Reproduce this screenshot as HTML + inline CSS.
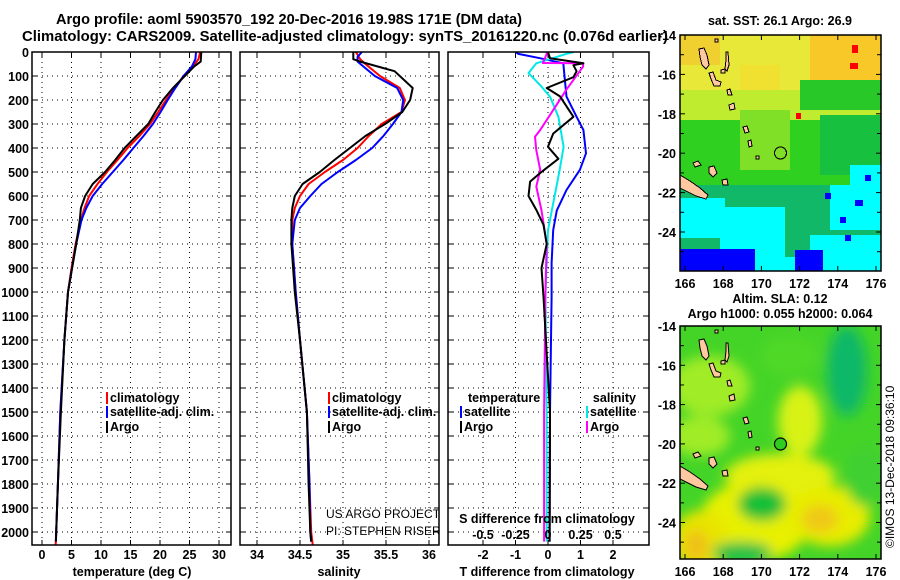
<!DOCTYPE html>
<html><head><meta charset="utf-8"><style>
html,body{margin:0;padding:0;background:#fff;}
svg{display:block;font-family:"Liberation Sans",Arial,sans-serif;}
.b{font-weight:bold;font-size:12.5px;}
</style></head><body>
<svg id="c" width="900" height="580" viewBox="0 0 900 580" xmlns="http://www.w3.org/2000/svg">
<defs>
<clipPath id="cp1"><rect x="32" y="52" width="199" height="493"/></clipPath>
<clipPath id="cp2"><rect x="240" y="52" width="199" height="493"/></clipPath>
<clipPath id="cp3"><rect x="448" y="52" width="201" height="493"/></clipPath>
<clipPath id="cm1"><rect x="680" y="35" width="201" height="236"/></clipPath>
<clipPath id="cm2"><rect x="680" y="326" width="201" height="233"/></clipPath>
<filter id="bl" x="-50%" y="-50%" width="200%" height="200%"><feGaussianBlur stdDeviation="6"/></filter>
</defs>
<text x="56" y="24" textLength="466" lengthAdjust="spacingAndGlyphs" font-weight="bold" font-size="14.5">Argo profile: aoml 5903570_192 20-Dec-2016 19.98S 171E (DM data)</text>
<text x="22" y="41" textLength="646" lengthAdjust="spacingAndGlyphs" font-weight="bold" font-size="14.5">Climatology: CARS2009. Satellite-adjusted climatology: synTS_20161220.nc (0.076d earlier)</text>
<g id="g"></g>
</svg>
<script>
// ---- data ----
const tClimDepth=[0,30,60,100,150,200,250,300,350,400,450,500,550,600,650,700,800,900,1000,1200,1500,1800,2000,2060];
const tClim=[26.8,26.5,25.6,24.0,22.5,21.0,19.7,18.3,16.5,14.5,12.8,11.0,9.4,8.0,7.2,6.6,5.7,5.0,4.4,3.8,3.1,2.7,2.4,2.3];
const tSatDepth=[0,30,60,100,150,200,250,300,350,400,450,500,550,600,650,700,800,900,1000,1200,1500,1800,2000,2040];
const tSat=[26.1,26.0,25.4,24.0,22.6,21.3,20.1,18.8,17.2,15.5,13.8,12.0,10.2,8.6,7.5,6.7,5.8,5.1,4.4,3.8,3.1,2.7,2.4,2.35];
const tArgoDepth=[0,40,60,100,150,200,250,300,350,400,450,500,550,600,650,700,800,900,1000,1200,1500,1800,2000,2040];
const tArgo=[27.0,26.9,25.8,24.2,22.2,20.5,19.2,18.0,16.0,14.0,12.4,10.7,8.6,7.3,6.6,6.4,5.8,5.1,4.4,3.8,3.2,2.7,2.4,2.35];
const sClimDepth=[0,30,50,100,150,200,250,300,350,400,450,500,550,600,650,700,800,1000,1200,1500,1800,2000,2060];
const sClim=[35.15,35.2,35.26,35.43,35.66,35.72,35.68,35.45,35.3,35.17,35.0,34.79,34.6,34.5,34.44,34.41,34.41,34.45,34.5,34.58,34.61,34.63,34.65];
const sSatDepth=[0,20,40,100,150,200,250,300,350,400,450,500,550,600,650,700,800,1000,1200,1500,1800,2000,2040];
const sSat=[35.22,35.17,35.17,35.37,35.63,35.70,35.68,35.58,35.47,35.34,35.15,34.94,34.75,34.62,34.5,34.44,34.41,34.45,34.5,34.58,34.61,34.62,34.63];
const sArgoDepth=[0,30,40,80,150,200,250,300,350,400,450,500,550,600,650,700,800,1000,1200,1500,1800,2000,2040];
const sArgo=[35.12,35.12,35.2,35.6,35.81,35.78,35.69,35.49,35.26,35.08,34.9,34.73,34.53,34.44,34.41,34.40,34.40,34.44,34.5,34.58,34.6,34.62,34.63];
const dTSatDepth=[0,8,26,47,117,186,270,325,422,491,575,660,742,880,1020,1500,2040];
const dTSat=[-1.0,-0.91,-0.25,0.47,0.52,0.57,0.88,1.09,1.17,0.98,0.57,0.27,0.16,0.11,0.11,0.06,0.05];
const dTArgoDepth=[0,26,47,55,80,105,150,185,270,340,395,445,505,540,600,660,720,800,900,1020,1500,2040];
const dTArgo=[0.0,0.06,1.09,0.78,0.88,0.78,-0.04,0.37,0.78,0.16,0.0,0.32,-0.25,-0.55,-0.6,-0.35,-0.14,-0.04,-0.2,-0.14,0.06,0.05];
const dSSatDepth=[0,8,47,88,144,186,270,395,491,603,742,880,1020,1500,2040];
const dSSat=[0.2,0.14,-0.09,-0.15,-0.05,0.015,0.08,0.12,0.09,0.05,0.0,-0.01,-0.02,-0.01,-0.01];
const dSArgoDepth=[0,8,46,47,61,158,242,325,353,409,491,561,660,800,1000,1500,2040];
const dSArgo=[-0.01,-0.01,-0.04,0.27,0.27,0.14,0.04,-0.06,-0.1,-0.09,-0.06,-0.09,-0.05,-0.01,-0.02,-0.03,-0.03];
const depthTicks=[0,100,200,300,400,500,600,700,800,900,1000,1100,1200,1300,1400,1500,1600,1700,1800,1900,2000];
const tTicks=[0,5,10,15,20,25,30];
const sTicks=[34,34.5,35,35.5,36];
const sTickLabels=["34","34.5","35","35.5","36"];
const dTTicks=[-2,-1,0,1,2];
const dSTicks=[-0.5,-0.25,0,0.25,0.5];
const dSTickLabels=["-0.5","-0.25","0","0.25","0.5"];
const latTicks=[-14,-16,-18,-20,-22,-24];
const lonTicks=[166,168,170,172,174,176];

// ---- scales ----
const Y0=52,Y1=545;
const yD=d=>Y0+0.24*d;
const xT=t=>42+5.9*t;
const xS=s=>257+86*(s-34);
const xDT=v=>548+32.5*v;
const xDS=v=>548+130*v;
const NS="http://www.w3.org/2000/svg";
const G=document.getElementById('g');
function mk(tag,attrs,parent){const e=document.createElementNS(NS,tag);for(const k in attrs)e.setAttribute(k,attrs[k]);(parent||G).appendChild(e);return e;}
function txt(x,y,s,attrs,parent){const e=mk('text',Object.assign({x:x,y:y},attrs||{}),parent);e.textContent=s;return e;}

const panels=[{x0:32,x1:231,clip:'cp1',name:'temperature'},{x0:240,x1:439,clip:'cp2',name:'salinity'},{x0:448,x1:649,clip:'cp3',name:'difference'}];
function grid(p,xs){
  const g=mk('g',{});
  
  
  xs.forEach(x=>mk('line',{x1:x,x2:x,y1:Y0,y2:Y1,stroke:'#000','stroke-width':1,'stroke-dasharray':'1,4'},g));
  depthTicks.forEach(d=>{const y=yD(d);mk('line',{x1:p.x0,x2:p.x1,y1:y,y2:y,stroke:'#000','stroke-width':1,'stroke-dasharray':'1,4'},g);
    mk('line',{x1:p.x0,x2:p.x0+5,y1:y,y2:y,stroke:'#000'},g);mk('line',{x1:p.x1-5,x2:p.x1,y1:y,y2:y,stroke:'#000'},g);});
  xs.forEach(x=>{mk('line',{x1:x,x2:x,y1:Y1,y2:Y1-5,stroke:'#000'},g);mk('line',{x1:x,x2:x,y1:Y0,y2:Y0+5,stroke:'#000'},g);});
}
grid(panels[0],tTicks.map(xT));
grid(panels[1],sTicks.map(xS));
grid(panels[2],dTTicks.map(xDT));
depthTicks.forEach(d=>{const t=txt(29,yD(d)+5,String(d),{'text-anchor':'end','class':'b'});

});
function line(xs,ds,fx,col,clip,name,w){
  const pts=xs.map((v,i)=>fx(v).toFixed(1)+','+yD(ds[i]).toFixed(1)).join(' ');
  const e=mk('polyline',{points:pts,fill:'none',stroke:col,'stroke-width':w||2,'clip-path':'url(#'+clip+')','stroke-linejoin':'round'});
  
  
}
line(tClim,tClimDepth,xT,'#ff0000','cp1','temp-climatology-line');
line(tSat,tSatDepth,xT,'#0000ff','cp1','temp-satellite-line');
line(tArgo,tArgoDepth,xT,'#000','cp1','temp-argo-line');
line(sClim,sClimDepth,xS,'#ff0000','cp2','sal-climatology-line');
line(sSat,sSatDepth,xS,'#0000ff','cp2','sal-satellite-line');
line(sArgo,sArgoDepth,xS,'#000','cp2','sal-argo-line');
line(dTSat,dTSatDepth,xDT,'#0000ff','cp3','tdiff-satellite-line');
line(dSSat,dSSatDepth,xDS,'#00e8e8','cp3','sdiff-satellite-line');
line(dSArgo,dSArgoDepth,xDS,'#ff00ff','cp3','sdiff-argo-line');
line(dTArgo,dTArgoDepth,xDT,'#000','cp3','tdiff-argo-line');
panels.forEach(p=>{const r=mk('rect',{x:p.x0,y:Y0,width:p.x1-p.x0,height:Y1-Y0,fill:'none',stroke:'#000','stroke-width':1.5});

});
tTicks.forEach(t=>txt(xT(t),559,String(t),{'text-anchor':'middle','class':'b'}));
sTicks.forEach((s,i)=>txt(xS(s),559,sTickLabels[i],{'text-anchor':'middle','class':'b'}));
dTTicks.forEach(v=>txt(xDT(v),559,String(v),{'text-anchor':'middle','class':'b'}));
dSTicks.forEach((v,i)=>txt(xDS(v),539,dSTickLabels[i],{'text-anchor':'middle','class':'b'}));
txt(132,576,'temperature (deg C)',{'text-anchor':'middle','class':'b',});
txt(339,576,'salinity',{'text-anchor':'middle','class':'b',});
txt(547,576,'T difference from climatology',{'text-anchor':'middle','class':'b',});
txt(547,523,'S difference from climatology',{'text-anchor':'middle','class':'b',});
function leg(x,y,col,label,name){const g=mk('g',{});
 mk('rect',{x:x,y:y-10,width:2,height:12,fill:col},g);txt(x+4,y,label,{'class':'b'},g);}
leg(106,402,'#ff0000','climatology','legend-entry-climatology');
leg(106,416,'#0000ff','satellite-adj. clim.','legend-entry-satellite');
leg(106,431,'#000','Argo','legend-entry-argo');
leg(328,402,'#ff0000','climatology','legend-entry-climatology-2');
leg(328,416,'#0000ff','satellite-adj. clim.','legend-entry-satellite-2');
leg(328,431,'#000','Argo','legend-entry-argo-2');
txt(468,402,'temperature',{'class':'b',});
txt(636,402,'salinity',{'class':'b','text-anchor':'end',});
leg(460,416,'#0000ff','satellite','legend-entry-t-satellite');
leg(460,431,'#000','Argo','legend-entry-t-argo');
leg(586,416,'#00e8e8','satellite','legend-entry-s-satellite');
leg(586,431,'#ff00ff','Argo','legend-entry-s-argo');
txt(326,518,'US ARGO PROJECT',{'font-size':12,'clip-path':'url(#cp2)',});
txt(326,535,'PI: STEPHEN RISER',{'font-size':12,'clip-path':'url(#cp2)',});

// ---- maps ----
const islands=[
 [[19,14],[24,13],[27,20],[29,30],[26,34],[22,30],[20,22]],
 [[29,38],[33,37],[36,45],[41,47],[40,51],[34,51],[31,44]],
 [[46,17],[48,17],[49,30],[47,36],[45,34],[46,25]],
 [[41,35],[45,34],[45,38],[41,38]],
 [[49,70],[54,68],[55,74],[50,75]],
 [[47,55],[50,54],[52,60],[48,60]],
 [[63,92],[67,91],[69,97],[65,98]],
 [[68,106],[71,105],[72,111],[69,112]],
 [[76,121],[79,121],[79,124],[76,124]],
 [[35,4],[38,4],[38,7],[35,7]],
 [[13,128],[18,126],[21,130],[15,132]],
 [[29,132],[34,131],[37,138],[33,142],[29,138]],
 [[42,145],[47,144],[48,150],[43,150]],
 [[0,140],[10,146],[20,153],[28,160],[26,164],[16,161],[6,156],[0,153]]
];
function drawIslands(ox,oy,g){islands.forEach(p=>{const e=mk('polygon',{points:p.map(q=>(q[0]+ox)+','+(q[1]+oy)).join(' '),fill:'#ffc8a0',stroke:'#000','stroke-width':1},g);
 
 });}
function mapAxes(ox,oy,h,k){
 latTicks.forEach((l,i)=>{const y=oy+i*2*k;txt(ox-4,y+5,String(l),{'text-anchor':'end','class':'b'});mk('line',{x1:ox,x2:ox+5,y1:y,y2:y,stroke:'#000'});mk('line',{x1:ox+201,x2:ox+196,y1:y,y2:y,stroke:'#000'});
  mk('line',{x1:ox,x2:ox+4,y1:y+k,y2:y+k,stroke:'#000'});mk('line',{x1:ox+201,x2:ox+197,y1:y+k,y2:y+k,stroke:'#000'});});
 lonTicks.forEach(l=>{const x=ox+5+19.1*(l-166);txt(x,oy+h+17,String(l),{'text-anchor':'middle','class':'b'});mk('line',{x1:x,x2:x,y1:oy+h,y2:oy+h-5,stroke:'#000'});mk('line',{x1:x,x2:x,y1:oy,y2:oy+5,stroke:'#000'});});
 const r=mk('rect',{x:ox,y:oy,width:201,height:h,fill:'none',stroke:'#000','stroke-width':1.5});
 
 
}
const m1=mk('g',{'clip-path':'url(#cm1)','shape-rendering':'crispEdges'});


(function(){const ox=680,oy=35;const R=(x,y,w,h,c)=>mk('rect',{x:ox+x,y:oy+y,width:w,height:h,fill:c},m1);
 R(0,0,201,236,'#10b868');
 R(0,0,201,60,'#e8e838');R(0,0,40,30,'#f0d030');R(130,0,71,50,'#f8c828');R(60,30,40,25,'#f0e030');
 R(0,55,201,35,'#c0ec30');R(120,45,81,30,'#28c828');R(0,85,201,70,'#30d020');R(60,75,50,60,'#80e028');
 R(140,80,61,60,'#18c040');R(0,150,201,86,'#10b868');
 R(0,163,45,40,'#00ffff');R(40,172,65,52,'#00ffff');R(130,200,71,28,'#00ffff');R(150,150,51,45,'#00ffff');R(170,130,31,20,'#00ffff');R(0,222,201,14,'#00ffff');
 R(0,214,75,22,'#0000ff');R(115,215,28,21,'#0000ff');R(160,182,6,6,'#0000ff');R(175,165,8,6,'#0000ff');R(145,158,6,6,'#0000ff');R(185,140,6,6,'#0000ff');R(165,200,6,6,'#0000ff');
 R(172,10,6,8,'#ff0000');R(170,28,8,6,'#ff0000');R(116,78,5,6,'#ff0000');
 drawIslands(ox,oy,m1);
 mk('circle',{cx:ox+100.5,cy:oy+118,r:6,fill:'none',stroke:'#000','stroke-width':1.2},m1);
})();
mapAxes(680,35,236,19.7);
txt(780,25,'sat. SST: 26.1 Argo: 26.9',{'text-anchor':'middle','class':'b',});
const m2=mk('g',{'clip-path':'url(#cm2)'});


(function(){const ox=680,oy=326;
 mk('rect',{x:ox,y:oy,width:201,height:233,fill:'#44d428'},m2);
 const b=mk('g',{filter:'url(#bl)'},m2);
 const E=(cx,cy,rx,ry,c)=>mk('ellipse',{cx:ox+cx,cy:oy+cy,rx:rx,ry:ry,fill:c},b);
 E(30,60,40,30,'#a0ec28');E(20,110,30,20,'#a0ec28');
 E(120,95,22,35,'#d8f218');E(100,150,55,22,'#e4f010');E(75,195,55,40,'#e8f000');E(150,190,40,30,'#e8ec00');
 E(140,193,18,14,'#f0c818');E(20,215,28,30,'#e8e400');E(16,220,12,16,'#f0c018');
 E(82,178,24,17,'#18c038');E(167,45,20,45,'#10b868');E(62,226,30,10,'#20c048');E(185,150,20,30,'#40d030');
 E(110,30,30,20,'#50d828');
 drawIslands(ox,oy,m2);
 mk('circle',{cx:ox+100.5,cy:oy+118,r:6,fill:'#30cc20',stroke:'#000','stroke-width':1.2},m2);
})();
mapAxes(680,326,233,19.65);
txt(780,303,'Altim. SLA: 0.12',{'text-anchor':'middle','class':'b',});
txt(780,318,'Argo h1000: 0.055 h2000: 0.064',{'text-anchor':'middle','class':'b',});
txt(894,548,'©IMOS 13-Dec-2018 09:36:10',{'font-size':12,transform:'rotate(-90 894 548)',});
</script>
</body></html>
